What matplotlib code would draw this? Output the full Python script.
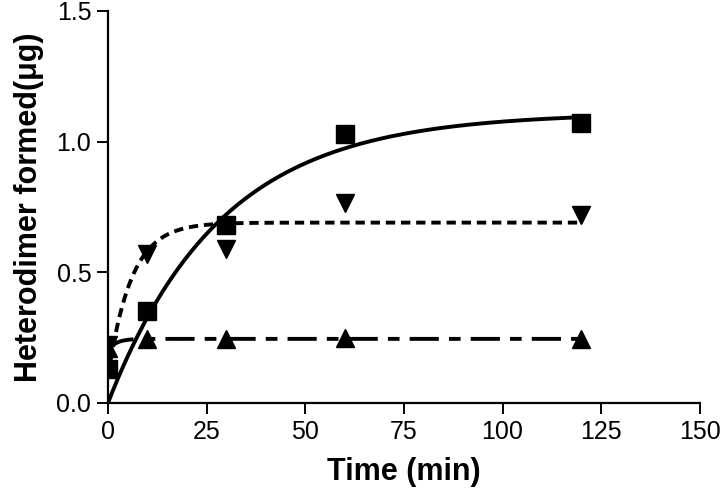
import numpy as np
import matplotlib

matplotlib.use("Agg")
import matplotlib.pyplot as plt

# measured points (time in min, heterodimer in ug)
time_pts = [0, 10, 30, 60, 120]
squares = [0.13, 0.35, 0.68, 1.03, 1.07]
inv_tri = [0.22, 0.57, 0.59, 0.765, 0.72]
up_tri = [0.21, 0.245, 0.245, 0.25, 0.245]

# one-phase association fit parameters: (start, plateau, rate)
fit_squares = (0.0, 1.11, 0.035)
fit_inv_tri = (0.10, 0.69, 0.17)
fit_up_tri = (0.20, 0.245, 0.5)

x_ticks = [0, 25, 50, 75, 100, 125, 150]
y_ticks = [0.0, 0.5, 1.0, 1.5]

tick_font = ["Liberation Sans Narrow", "Liberation Sans", "DejaVu Sans"]


def assoc(t, p):
    y0, plateau, k = p
    return y0 + (plateau - y0) * (1 - np.exp(-k * t))


fig = plt.figure(figsize=(7.2, 4.98), dpi=100)
ax = fig.add_axes([0.150, 0.191, 0.822, 0.787])

tt = np.linspace(0, max(time_pts), 400)
ax.plot(tt, assoc(tt, fit_squares), color="black", lw=2.8, ls="-")
ax.plot(tt, assoc(tt, fit_inv_tri), color="black", lw=2.8, ls=(0, (2.4, 1.5)))
ax.plot(tt, assoc(tt, fit_up_tri), color="black", lw=2.8, ls=(0, (7.5, 2.6, 3, 2.6)))

ax.plot(time_pts, squares, "s", color="black", ms=13, ls="none")
ax.plot(time_pts, inv_tri, "v", color="black", ms=13, ls="none")
ax.plot(time_pts, up_tri, "^", color="black", ms=13, ls="none")

ax.set_xlim(0, 150)
ax.set_ylim(0, 1.5)
ax.set_xticks(x_ticks)
ax.set_yticks(y_ticks)
ax.set_xticklabels([str(v) for v in x_ticks], family=tick_font, fontsize=18)
ax.set_yticklabels([f"{v:.1f}" for v in y_ticks], family=tick_font, fontsize=18)

for side in ("top", "right"):
    ax.spines[side].set_visible(False)
for side in ("left", "bottom"):
    ax.spines[side].set_linewidth(1.6)
ax.tick_params(direction="out", length=8, width=1.4, pad=4)

ax.set_xlabel("Time (min)", fontsize=22, fontweight="bold",
              family=["Liberation Sans", "DejaVu Sans"], labelpad=10)
ax.set_ylabel("Heterodimer formed(\u03bcg)", fontsize=22, fontweight="bold",
              family=["Liberation Sans", "DejaVu Sans"], labelpad=9)

fig.savefig("out.png", dpi=100, facecolor="white")
